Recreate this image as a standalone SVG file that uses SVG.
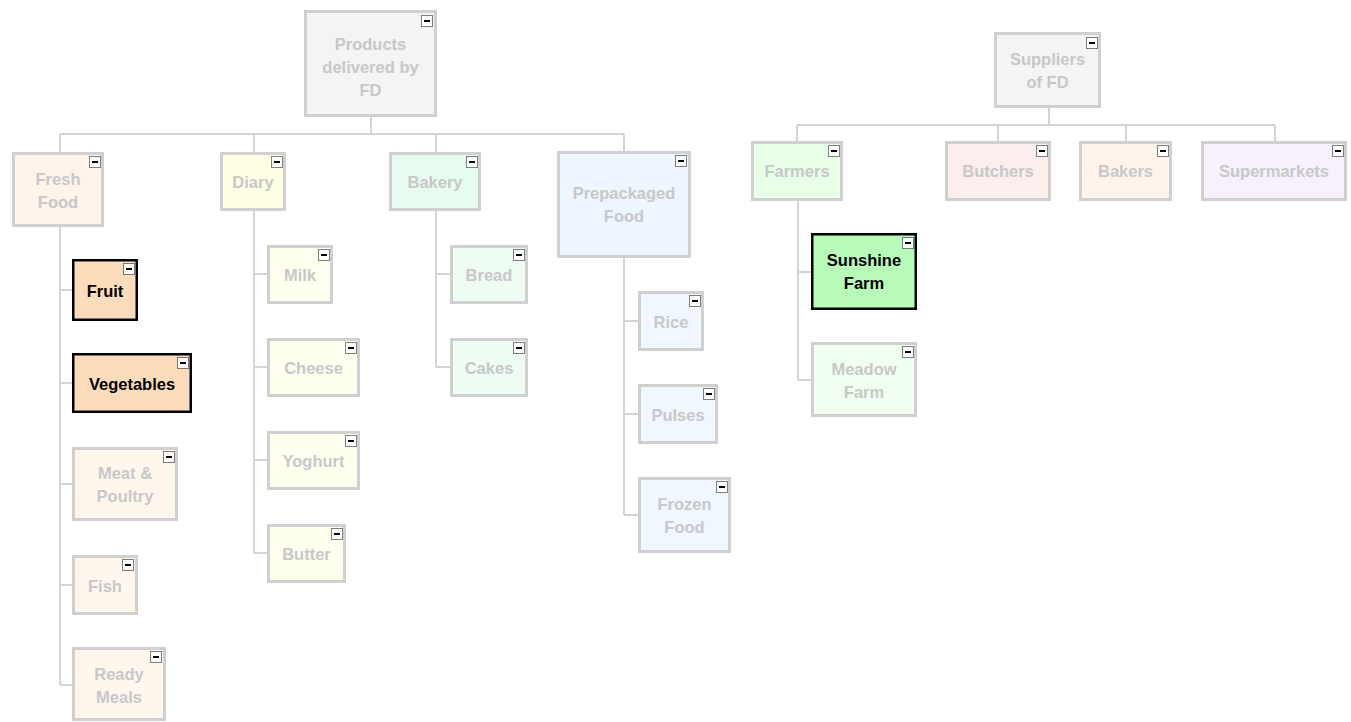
<svg xmlns="http://www.w3.org/2000/svg" xmlns:xlink="http://www.w3.org/1999/xlink" width="1351" height="722" viewBox="0 0 1351 722">
<style>
.n{stroke:#d0d0d0;stroke-width:3}
.s{stroke:#000;stroke-width:2.5}
.t{font-family:"Liberation Sans Narrow","Liberation Sans",Arial,sans-serif;font-weight:bold;font-size:16.5px;fill:#c8c8c8;text-anchor:middle}
.ts{fill:#000}
.c{stroke:#d4d4d4;stroke-width:2;fill:none}
</style>
<defs>
<g id="ic"><rect x="0.5" y="0.5" width="11" height="11" fill="#fff" stroke="#000" stroke-width="1" stroke-dasharray="1,1"/><rect x="3" y="5" width="6" height="2" fill="#000"/></g>
</defs>
<rect width="1351" height="722" fill="#fff"/>
<g id="connectors">
<path class="c" d="M371,117V134M60,134H624M60,134V152M254,134V152M436,134V152M624,134V151"/>
<path class="c" d="M60,227V685M60,290H72M60,383H72M60,484H72M60,585H72M60,685H72"/>
<path class="c" d="M254,211V553M254,274H267M254,367H267M254,460H267M254,553H267"/>
<path class="c" d="M436,211V367M436,274H450M436,367H450"/>
<path class="c" d="M624,258V515M624,321H638M624,414H638M624,515H638"/>
<path class="c" d="M1049,108V125M797,125H1275M797,125V141M998,125V141M1126,125V141M1275,125V141"/>
<path class="c" d="M798,201V380M798,272H811M798,380H811"/>
</g>
<g id="products"><rect class="n" x="305.5" y="11.5" width="130" height="104" fill="#f4f4f4"/><use xlink:href="#ic" x="421" y="15"/><text class="t" x="370.5" y="50">Products</text><text class="t" x="370.5" y="73">delivered by</text><text class="t" x="370.5" y="96">FD</text></g>
<g id="freshfood"><rect class="n" x="13.5" y="153.5" width="89" height="72" fill="#fff3ea"/><use xlink:href="#ic" x="89" y="156"/><text class="t" x="58" y="185">Fresh</text><text class="t" x="58" y="208">Food</text></g>
<g id="fruit"><rect class="s" x="73.25" y="260.25" width="63.5" height="59.5" fill="#fddcbc"/><use xlink:href="#ic" x="123" y="263"/><text class="t ts" x="105" y="297">Fruit</text></g>
<g id="vegetables"><rect class="s" x="73.25" y="354.25" width="117.5" height="57.5" fill="#fddcbc"/><use xlink:href="#ic" x="177" y="357"/><text class="t ts" x="132" y="390">Vegetables</text></g>
<g id="meat"><rect class="n" x="73.5" y="448.5" width="103" height="71" fill="#fff6ee"/><use xlink:href="#ic" x="163" y="451"/><text class="t" x="125" y="479">Meat &amp;</text><text class="t" x="125" y="502">Poultry</text></g>
<g id="fish"><rect class="n" x="73.5" y="556.5" width="63" height="57" fill="#fff6ee"/><use xlink:href="#ic" x="122" y="559"/><text class="t" x="105" y="592">Fish</text></g>
<g id="readymeals"><rect class="n" x="73.5" y="648.5" width="91" height="71" fill="#fff6ee"/><use xlink:href="#ic" x="150" y="651"/><text class="t" x="119" y="680">Ready</text><text class="t" x="119" y="703">Meals</text></g>
<g id="diary"><rect class="n" x="221.5" y="153.5" width="63" height="56" fill="#ffffe6"/><use xlink:href="#ic" x="271" y="156"/><text class="t" x="253" y="188">Diary</text></g>
<g id="milk"><rect class="n" x="268.5" y="246.5" width="63" height="56" fill="#fffff0"/><use xlink:href="#ic" x="318" y="249"/><text class="t" x="300" y="281">Milk</text></g>
<g id="cheese"><rect class="n" x="268.5" y="339.5" width="90" height="56" fill="#fffff0"/><use xlink:href="#ic" x="345" y="342"/><text class="t" x="313.5" y="374">Cheese</text></g>
<g id="yoghurt"><rect class="n" x="268.5" y="432.5" width="90" height="56" fill="#fffff0"/><use xlink:href="#ic" x="345" y="435"/><text class="t" x="313.5" y="467">Yoghurt</text></g>
<g id="butter"><rect class="n" x="268.5" y="525.5" width="76" height="56" fill="#fffff0"/><use xlink:href="#ic" x="331" y="528"/><text class="t" x="306.5" y="560">Butter</text></g>
<g id="bakery"><rect class="n" x="390.5" y="153.5" width="89" height="56" fill="#e8fbf0"/><use xlink:href="#ic" x="466" y="156"/><text class="t" x="435" y="188">Bakery</text></g>
<g id="bread"><rect class="n" x="451.5" y="246.5" width="75" height="56" fill="#eefcf4"/><use xlink:href="#ic" x="513" y="249"/><text class="t" x="489" y="281">Bread</text></g>
<g id="cakes"><rect class="n" x="451.5" y="339.5" width="75" height="56" fill="#eefcf4"/><use xlink:href="#ic" x="513" y="342"/><text class="t" x="489" y="374">Cakes</text></g>
<g id="prepackaged"><rect class="n" x="558.5" y="152.5" width="131" height="104" fill="#eef6ff"/><use xlink:href="#ic" x="675" y="155"/><text class="t" x="624" y="199">Prepackaged</text><text class="t" x="624" y="222">Food</text></g>
<g id="rice"><rect class="n" x="639.5" y="292.5" width="63" height="57" fill="#f0f7ff"/><use xlink:href="#ic" x="689" y="295"/><text class="t" x="671" y="328">Rice</text></g>
<g id="pulses"><rect class="n" x="639.5" y="385.5" width="77" height="57" fill="#f0f7ff"/><use xlink:href="#ic" x="703" y="388"/><text class="t" x="678" y="421">Pulses</text></g>
<g id="frozenfood"><rect class="n" x="639.5" y="478.5" width="90" height="73" fill="#f0f7ff"/><use xlink:href="#ic" x="716" y="481"/><text class="t" x="684.5" y="510">Frozen</text><text class="t" x="684.5" y="533">Food</text></g>
<g id="suppliers"><rect class="n" x="995.5" y="33.5" width="104" height="73" fill="#f4f4f4"/><use xlink:href="#ic" x="1086" y="37"/><text class="t" x="1047.5" y="65">Suppliers</text><text class="t" x="1047.5" y="88">of FD</text></g>
<g id="farmers"><rect class="n" x="752.5" y="142.5" width="89" height="57" fill="#e8ffe8"/><use xlink:href="#ic" x="828" y="145"/><text class="t" x="797" y="177">Farmers</text></g>
<g id="sunshine"><rect class="s" x="812.25" y="234.25" width="103.5" height="74.5" fill="#b8fab8"/><use xlink:href="#ic" x="902" y="237"/><text class="t ts" x="864" y="266">Sunshine</text><text class="t ts" x="864" y="289">Farm</text></g>
<g id="meadow"><rect class="n" x="812.5" y="343.5" width="103" height="72" fill="#f0fff0"/><use xlink:href="#ic" x="902" y="346"/><text class="t" x="864" y="375">Meadow</text><text class="t" x="864" y="398">Farm</text></g>
<g id="butchers"><rect class="n" x="946.5" y="142.5" width="103" height="57" fill="#fdeeee"/><use xlink:href="#ic" x="1036" y="145"/><text class="t" x="998" y="177">Butchers</text></g>
<g id="bakers"><rect class="n" x="1080.5" y="142.5" width="90" height="57" fill="#fff3ea"/><use xlink:href="#ic" x="1157" y="145"/><text class="t" x="1125.5" y="177">Bakers</text></g>
<g id="supermarkets"><rect class="n" x="1202.5" y="142.5" width="143" height="57" fill="#f6f0ff"/><use xlink:href="#ic" x="1332" y="145"/><text class="t" x="1274" y="177">Supermarkets</text></g>
</svg>
